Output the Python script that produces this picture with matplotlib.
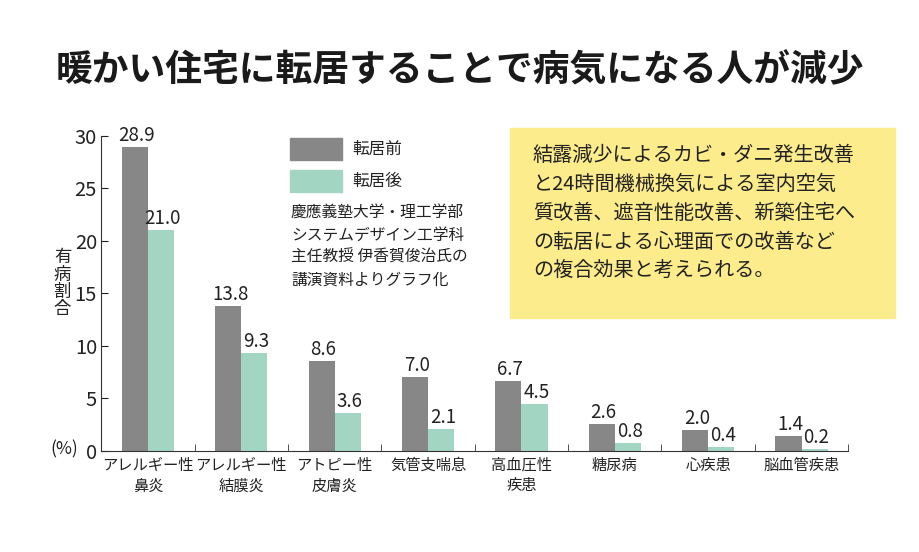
import numpy as np
import matplotlib.pyplot as plt
from matplotlib.patches import Rectangle

plt.rcParams['font.family'] = ['Noto Sans CJK JP', 'DejaVu Sans']

categories = ['アレルギー性\n鼻炎', 'アレルギー性\n結膜炎', 'アトピー性\n皮膚炎', '気管支喘息',
              '高血圧性\n疾患', '糖尿病', '心疾患', '脳血管疾患']
before = [28.9, 13.8, 8.6, 7.0, 6.7, 2.6, 2.0, 1.4]
after = [21.0, 9.3, 3.6, 2.1, 4.5, 0.8, 0.4, 0.2]
series_names = ['転居前', '転居後']

gray = '#878787'
green = '#a3d6c2'

fig = plt.figure(figsize=(9.2, 5.52), dpi=100)
ax = fig.add_axes([0.11, 0.183, 0.812, 0.571])

x = np.arange(len(categories))
w = 0.28
b1 = ax.bar(x - w / 2, before, w, color=gray)
b2 = ax.bar(x + w / 2, after, w, color=green)

for bars, vals in ((b1, before), (b2, after)):
    for r, v in zip(bars, vals):
        ax.text(r.get_x() + r.get_width() / 2 + 0.02, v + 0.1, f'{v:.1f}',
                ha='center', va='bottom', fontsize=13.5, color='#222222')

ax.set_xlim(-0.5, len(categories) - 0.5)
ax.set_ylim(0, 30)
ax.set_yticks([0, 5, 10, 15, 20, 25, 30])
ax.tick_params(axis='y', direction='in', length=5, labelsize=14.5, colors='#222222', pad=3)
ax.set_xticks(x)
ax.set_xticklabels(categories, fontsize=11, linespacing=1.3)
ax.tick_params(axis='x', length=0, pad=4, colors='#222222')
ax.set_xticks(np.arange(0.5, len(categories)), minor=True)
ax.tick_params(axis='x', which='minor', direction='in', length=5, color='#333333')
for s in ('top', 'right'):
    ax.spines[s].set_visible(False)
for s in ('left', 'bottom'):
    ax.spines[s].set_color('#333333')

fig.text(0.070, 0.185, '(%)', fontsize=12.5, ha='center', va='center', color='#222222')
fig.text(0.068, 0.487, '\n'.join('有病割合'), fontsize=12.5, ha='center', va='center',
         linespacing=0.95, color='#222222')

fig.text(0.5, 0.872, '暖かい住宅に転居することで病気になる人が減少', fontsize=26.5,
         fontweight='bold', ha='center', va='center', color='#1a1a1a')

# legend
for i, (name, c) in enumerate(zip(series_names, [gray, green])):
    y0 = 1 - (160 + i * 32) / 552
    fig.patches.append(Rectangle((290 / 920, y0), 52 / 920, 22 / 552, color=c,
                                 transform=fig.transFigure))
    fig.text(352 / 920, y0 + 11 / 552, name, fontsize=12, va='center', color='#222222')

fig.text(291 / 920, 1 - 204 / 552,
         '慶應義塾大学・理工学部\nシステムデザイン工学科\n主任教授 伊香賀俊治氏の\n講演資料よりグラフ化',
         fontsize=11.3, va='top', linespacing=1.42, color='#222222')

# note box
fig.patches.append(Rectangle((510 / 920, 1 - 318 / 552), 385 / 920, 190 / 552,
                             color='#fcec8c', transform=fig.transFigure))
fig.text(533 / 920, 1 - 145 / 552,
         '結露減少によるカビ・ダニ発生改善\nと24時間機械換気による室内空気\n質改善、遮音性能改善、新築住宅へ\nの転居による心理面での改善など\nの複合効果と考えられる。',
         fontsize=14.5, va='top', linespacing=1.5, color='#222222')

fig.savefig('out.png', dpi=100)
